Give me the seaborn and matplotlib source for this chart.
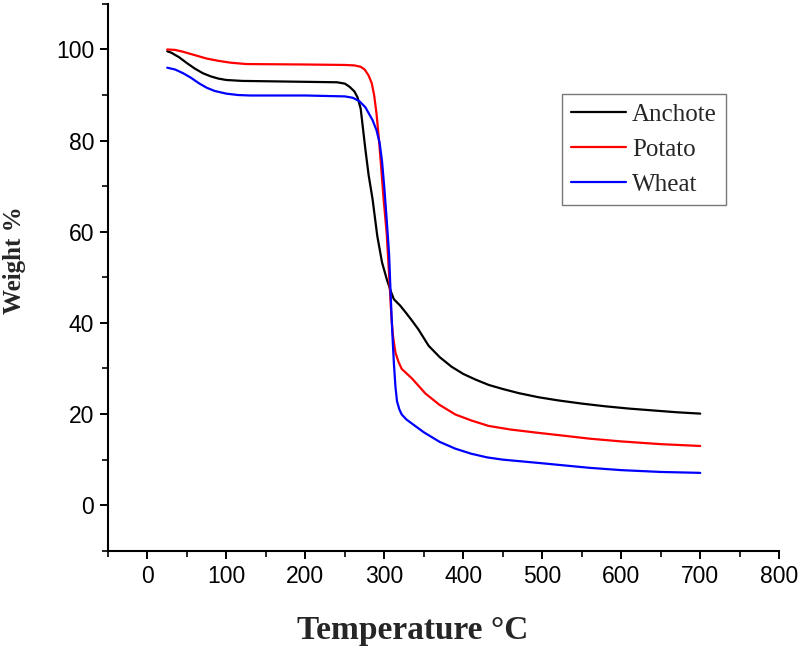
import pandas as pd
import matplotlib
matplotlib.use("Agg")
import matplotlib.pyplot as plt
from matplotlib.ticker import MultipleLocator
import seaborn as sns

# TGA curves
anchote_t = [25, 30, 40, 50, 60, 70, 80, 90, 100, 120, 200, 240, 250, 256, 262, 266, 270, 273,
             276, 280, 285, 291, 297, 303, 308, 312, 320, 327, 335, 343, 356, 370, 385, 400,
             415, 432, 450, 470, 495, 520, 550, 580, 610, 640, 670, 700]
anchote_w = [99.6, 99.3, 98.3, 97.0, 95.8, 94.8, 94.1, 93.6, 93.3, 93.1, 92.9, 92.8, 92.5, 91.8,
             90.8, 89.5, 87.0, 82.5, 78.0, 72.5, 67.2, 59.1, 53.3, 49.6, 47.0, 45.2, 43.8, 42.3,
             40.5, 38.6, 35.0, 32.5, 30.4, 28.8, 27.6, 26.4, 25.5, 24.6, 23.7, 23.0, 22.3, 21.7,
             21.2, 20.8, 20.4, 20.1]

potato_t = [25, 35, 45, 55, 65, 75, 90, 105, 125, 200, 250, 262, 270, 275, 280, 284, 287, 290,
            293, 296, 299, 303, 306, 309, 311, 314, 318, 322, 335, 352, 370, 390, 410, 432, 460,
            494, 530, 560, 600, 650, 700]
potato_w = [100.0, 99.9, 99.5, 99.0, 98.5, 98.0, 97.5, 97.1, 96.8, 96.7, 96.6, 96.5, 96.2, 95.6,
            94.3, 92.6, 90.0, 86.0, 80.5, 74.0, 67.2, 59.5, 50.5, 41.0, 37.0, 33.5, 31.4, 29.9,
            27.8, 24.5, 22.0, 19.9, 18.6, 17.4, 16.6, 15.9, 15.2, 14.6, 14.0, 13.4, 13.0]

wheat_t = [25, 35, 45, 55, 65, 75, 85, 100, 115, 130, 200, 250, 260, 268, 276, 285, 290, 294,
           297, 300, 303, 306, 308, 310, 312, 314, 316, 319, 322, 328, 335, 350, 370, 390, 410,
           430, 450, 494, 530, 560, 600, 650, 700]
wheat_w = [96.0, 95.6, 94.8, 93.8, 92.6, 91.6, 90.9, 90.3, 90.0, 89.9, 89.9, 89.7, 89.4, 88.7,
           87.3, 84.5, 82.3, 79.5, 75.5, 69.5, 62.5, 55.0, 46.0, 38.0, 31.3, 26.0, 22.8, 21.0,
           19.9, 18.8, 17.9, 16.0, 13.9, 12.4, 11.3, 10.5, 10.0, 9.3, 8.7, 8.2, 7.7, 7.3, 7.1]

df = pd.concat([
    pd.DataFrame({"T": anchote_t, "W": anchote_w, "sample": "Anchote"}),
    pd.DataFrame({"T": potato_t, "W": potato_w, "sample": "Potato"}),
    pd.DataFrame({"T": wheat_t, "W": wheat_w, "sample": "Wheat"}),
])

sns.set_style("ticks")
plt.rcParams["font.family"] = ["Liberation Sans", "DejaVu Sans"]

fig = plt.figure(figsize=(8, 6.48), dpi=100)
ax = fig.add_axes([0.135, 0.150, 0.839, 0.844])

sns.lineplot(data=df, x="T", y="W", hue="sample",
             palette={"Anchote": "black", "Potato": "red", "Wheat": "blue"},
             linewidth=1.6, ax=ax)

ax.set_xlim(-50, 800)
ax.set_ylim(-10, 110)
ax.xaxis.set_minor_locator(MultipleLocator(50))
ax.yaxis.set_minor_locator(MultipleLocator(10))
ax.set_xticks(range(0, 801, 100))
ax.set_yticks(range(0, 101, 20))

sns.despine(ax=ax)
for s in ["left", "bottom"]:
    ax.spines[s].set_linewidth(1.5)
    ax.spines[s].set_color("black")
ax.tick_params(which="major", direction="out", length=6, width=1.4, labelsize=16.5,
               colors="black", pad=4)
ax.tick_params(which="minor", direction="out", length=4, width=1.4)

ax.set_xlabel("Temperature °C", family="Liberation Serif", weight="bold", fontsize=24,
              va="center")
ax.set_ylabel("Weight %", family="Liberation Serif", weight="bold", fontsize=18,
              va="center")
ax.xaxis.set_label_coords(0.4545, -0.146)
ax.yaxis.set_label_coords(-0.139, 0.532)

leg = ax.legend(loc="upper right", bbox_to_anchor=(0.921, 0.835), borderaxespad=0,
                prop={"family": "Liberation Serif", "size": 18}, frameon=True,
                fancybox=False, handlelength=2.2, labelspacing=0.5, handletextpad=0.25,
                borderpad=0.37)
leg.get_frame().set_edgecolor("#555555")
leg.get_frame().set_linewidth(1.0)
leg.set_title(None)

fig.savefig("out.png", dpi=100)
